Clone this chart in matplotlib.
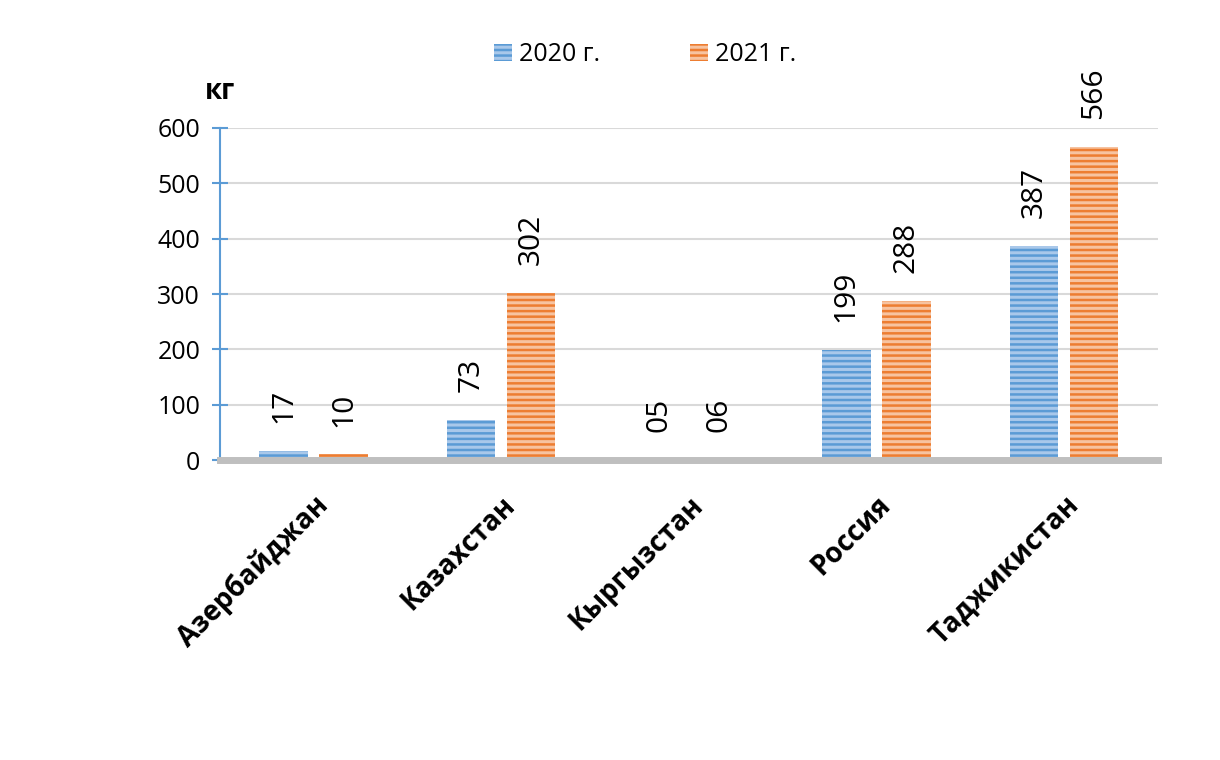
import numpy as np
import matplotlib.pyplot as plt
from matplotlib.patches import Patch

# ============================================
# DATA
# ============================================
countries = ['Азербайджан', 'Казахстан', 'Кыргызстан', 'Россия', 'Таджикистан']
values_2020 = [17, 73, 0.5, 199, 387]
values_2021 = [10, 302, 0.6, 288, 566]
labels_2020 = ['17', '73', '05', '199', '387']
labels_2021 = ['10', '302', '06', '288', '566']
series_names = ['2020 г.', '2021 г.']
y_ticks = [0, 100, 200, 300, 400, 500, 600]

BLUE = '#5b9bd5'
BLUE_LIGHT = '#a9c8ea'
ORANGE = '#ed7d31'
ORANGE_LIGHT = '#f7c3a0'

plt.rcParams['font.family'] = ['Open Sans', 'DejaVu Sans']
plt.rcParams['hatch.linewidth'] = 2.2

fig = plt.figure(figsize=(12.2, 7.6), dpi=100)
ax = fig.add_axes([0.180, 0.3947, 0.769, 0.4369])

x = np.arange(len(countries))
w = 0.26
off = 0.16

bars1 = ax.bar(x - off, values_2020, w, color=BLUE, edgecolor=BLUE_LIGHT,
               linewidth=0, hatch='---', zorder=3)
bars2 = ax.bar(x + off, values_2021, w, color=ORANGE, edgecolor=ORANGE_LIGHT,
               linewidth=0, hatch='---', zorder=3)

# rotated value labels above the bars
for bars, labs in [(bars1, labels_2020), (bars2, labels_2021)]:
    for b, lab in zip(bars, labs):
        ax.annotate(lab, (b.get_x() + b.get_width() / 2, b.get_height()),
                    xytext=(0, 20), textcoords='offset points',
                    rotation=90, ha='center', va='bottom', fontsize=21.5)

ax.set_xlim(-0.5, len(countries) - 0.5)
ax.set_ylim(0, 600)
ax.set_yticks(y_ticks)
ax.tick_params(axis='y', direction='inout', length=12, width=1.5, color=BLUE,
               labelsize=18, pad=8)
ax.set_xticks(x)
ax.set_xticklabels(countries, rotation=45, ha='right', rotation_mode='anchor',
                   fontsize=20, fontweight='bold')
ax.tick_params(axis='x', length=0, pad=22)

ax.grid(axis='y', color='#d9d9d9', linewidth=1.5, zorder=0)
for s in ['top', 'right', 'bottom']:
    ax.spines[s].set_visible(False)
ax.spines['left'].set_color(BLUE)
ax.spines['left'].set_linewidth(1.5)
ax.axhline(0, color='#bfbfbf', linewidth=5, zorder=4, clip_on=False)

ax.text(0.0, 1.065, 'кг', transform=ax.transAxes, ha='center', va='bottom',
        fontsize=20, fontweight='bold')

handles = [Patch(facecolor=BLUE, edgecolor=BLUE_LIGHT, hatch='---', linewidth=0),
           Patch(facecolor=ORANGE, edgecolor=ORANGE_LIGHT, hatch='---', linewidth=0)]
fig.legend(handles, series_names, loc='center', bbox_to_anchor=(0.529, 0.928),
           ncol=2, frameon=False, fontsize=18, columnspacing=3.6,
           handlelength=0.7, handleheight=0.7, handletextpad=0.3)

fig.savefig('out.png', dpi=100)
